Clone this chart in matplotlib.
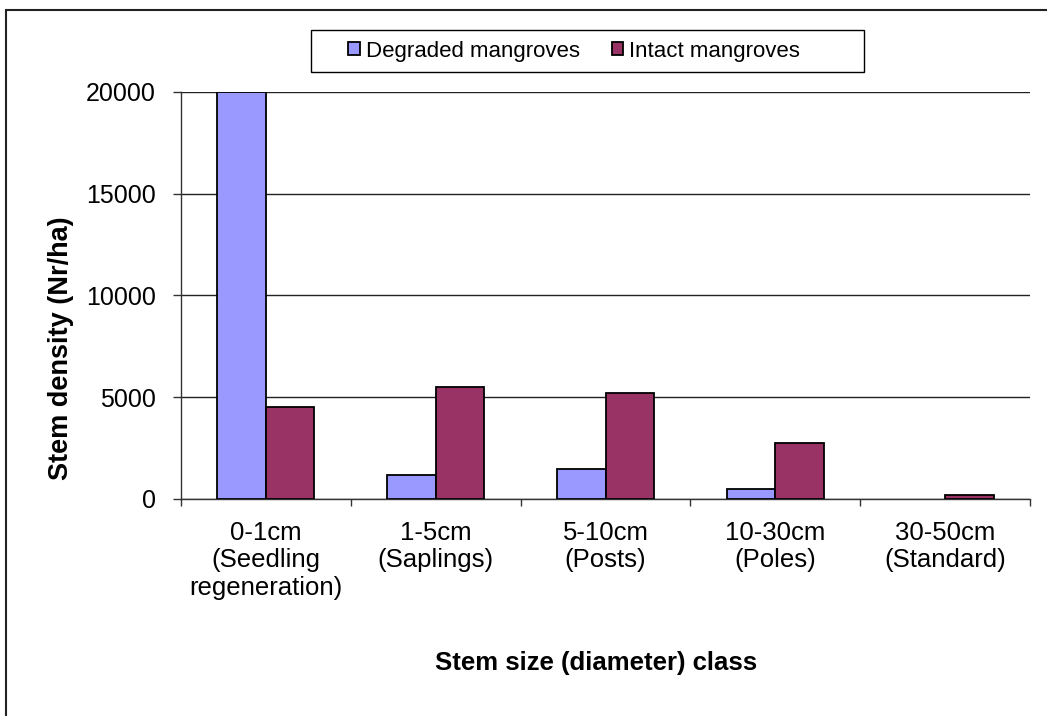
import matplotlib.pyplot as plt
import matplotlib.patches as mpatches
import numpy as np

plt.rcParams["font.family"] = ["Liberation Sans", "DejaVu Sans"]

categories = ["0-1cm\n(Seedling\nregeneration)", "1-5cm\n(Saplings)", "5-10cm\n(Posts)",
              "10-30cm\n(Poles)", "30-50cm\n(Standard)"]
degraded = [20000, 1200, 1450, 480, 0]
intact = [4500, 5500, 5200, 2750, 200]

fig = plt.figure(figsize=(10.47, 7.16), dpi=100)
ax = fig.add_axes([181 / 1047, 1 - 499 / 716, (1030 - 181) / 1047, (499 - 92) / 716])

x = np.arange(len(categories))
w = 1 / 3.5
# zero-height bars get no outline, like the original
ax.bar(x - w / 2, degraded, w, color="#9999FF", edgecolor="black",
       linewidth=[1.3 if v > 0 else 0 for v in degraded], label="Degraded mangroves", zorder=3)
ax.bar(x + w / 2, intact, w, color="#993366", edgecolor="black",
       linewidth=[1.3 if v > 0 else 0 for v in intact], label="Intact mangroves", zorder=3)

ax.set_xlim(-0.5, len(categories) - 0.5)
ax.set_ylim(0, 20000)
ax.set_yticks([0, 5000, 10000, 15000, 20000])
ax.yaxis.grid(True, color="#222222", linewidth=1, zorder=0)
ax.set_axisbelow(True)

ax.set_xticks(x)
ax.set_xticklabels(categories, fontsize=18.5, linespacing=1.17)
ax.set_xticks(np.arange(-0.5, len(categories)), minor=True)
ax.tick_params(axis="x", which="major", length=0, pad=16)
ax.tick_params(axis="x", which="minor", length=5, width=1, color="#333333")
ax.tick_params(axis="y", length=6, width=1, color="#333333", pad=12, labelsize=18)

for s in ["top", "right"]:
    ax.spines[s].set_visible(False)
for s in ["left", "bottom"]:
    ax.spines[s].set_color("#333333")
    ax.spines[s].set_linewidth(1)

ax.set_xlabel("Stem size (diameter) class", fontsize=18.5, fontweight="bold")
ax.xaxis.set_label_coords((596 - 181) / (1030 - 181), -(651 - 499) / (499 - 92))
ax.set_ylabel("Stem density (Nr/ha)", fontsize=19.5, fontweight="bold", va="center")
ax.yaxis.set_label_coords(-(181 - 61) / (1030 - 181), (499 - 348) / (499 - 92))

leg = ax.legend(loc="center left", bbox_to_anchor=(337 / 1047, 1 - 51 / 716),
                bbox_transform=fig.transFigure, ncol=2, fontsize=16, frameon=False,
                handlelength=0.52, handleheight=0.52, columnspacing=1.45,
                handletextpad=0.27, borderpad=0)
for h in leg.legend_handles:
    h.set_edgecolor("black")
    h.set_linewidth(1.3)

legbox = mpatches.Rectangle((311 / 1047, 1 - 72 / 716), (864 - 311) / 1047, 42 / 716,
                            fill=False, edgecolor="black", linewidth=1,
                            transform=fig.transFigure)
fig.patches.append(legbox)

frame = mpatches.Rectangle((6 / 1047, -0.1), 1.2, 1.1 - 10 / 716, fill=False,
                           edgecolor="#222222", linewidth=1.5, transform=fig.transFigure,
                           clip_on=False)
fig.patches.append(frame)

fig.savefig("out.png", dpi=100)
